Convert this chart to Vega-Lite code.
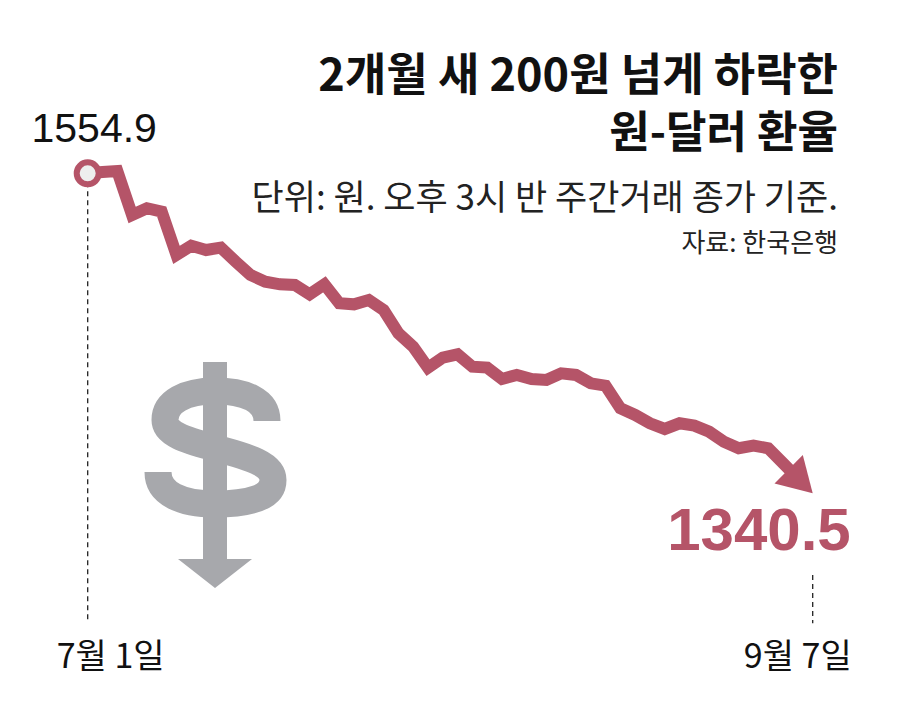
{
  "$schema": "https://vega.github.io/schema/vega-lite/v6.json",
  "description": "Won-dollar exchange rate, 2 months",
  "width": 908,
  "height": 714,
  "autosize": {"type": "fit", "contains": "padding"},
  "padding": 0,
  "background": "white",
  "config": {"view": {"stroke": null}},

  "datasets": {
    "rate": [
      {"d": 0, "rate": 1554.9, "date": "7월 1일"},
      {"d": 1, "rate": 1555.8},
      {"d": 2, "rate": 1556.4},
      {"d": 3, "rate": 1527.0},
      {"d": 4, "rate": 1531.5},
      {"d": 5, "rate": 1529.2},
      {"d": 6, "rate": 1500.2},
      {"d": 7, "rate": 1506.4},
      {"d": 8, "rate": 1503.5},
      {"d": 9, "rate": 1505.1},
      {"d": 10, "rate": 1495.7},
      {"d": 11, "rate": 1486.8},
      {"d": 12, "rate": 1482.3},
      {"d": 13, "rate": 1480.5},
      {"d": 14, "rate": 1480.1},
      {"d": 15, "rate": 1473.8},
      {"d": 16, "rate": 1480.5},
      {"d": 17, "rate": 1467.8},
      {"d": 18, "rate": 1467.1},
      {"d": 19, "rate": 1470.0},
      {"d": 20, "rate": 1463.3},
      {"d": 21, "rate": 1447.7},
      {"d": 22, "rate": 1438.7},
      {"d": 23, "rate": 1424.7},
      {"d": 24, "rate": 1431.4},
      {"d": 25, "rate": 1433.6},
      {"d": 26, "rate": 1425.3},
      {"d": 27, "rate": 1424.7},
      {"d": 28, "rate": 1417.1},
      {"d": 29, "rate": 1419.8},
      {"d": 30, "rate": 1417.1},
      {"d": 31, "rate": 1416.4},
      {"d": 32, "rate": 1420.9},
      {"d": 33, "rate": 1419.8},
      {"d": 34, "rate": 1414.2},
      {"d": 35, "rate": 1412.6},
      {"d": 36, "rate": 1397.5},
      {"d": 37, "rate": 1393.0},
      {"d": 38, "rate": 1387.4},
      {"d": 39, "rate": 1383.6},
      {"d": 40, "rate": 1387.4},
      {"d": 41, "rate": 1385.8},
      {"d": 42, "rate": 1381.8},
      {"d": 43, "rate": 1375.1},
      {"d": 44, "rate": 1370.7},
      {"d": 45, "rate": 1372.4},
      {"d": 46, "rate": 1370.7},
      {"d": 47, "rate": 1360.6},
      {"d": 48, "rate": 1350.5},
      {"d": 49, "rate": 1340.5, "date": "9월 7일"}
    ]
  },

  "data": {"name": "rate"},

  "encoding": {
    "x": {"field": "d", "type": "quantitative", "axis": null,
          "scale": {"domain": [-5.927, 55.441], "nice": false, "zero": false}},
    "y": {"field": "rate", "type": "quantitative", "axis": null,
          "scale": {"domain": [1192.63, 1671.01], "nice": false, "zero": false}}
  },

  "layer": [
    {
      "transform": [{"filter": "datum.d == 0"}],
      "mark": {"type": "rule", "color": "#222222", "strokeWidth": 1.3, "strokeDash": [5, 4]},
      "encoding": {"y2": {"datum": 1253.5}}
    },
    {
      "transform": [{"filter": "datum.d == 49"}],
      "mark": {"type": "rule", "color": "#222222", "strokeWidth": 1.3, "strokeDash": [5, 4]},
      "encoding": {"y": {"datum": 1285.8}, "y2": {"datum": 1253.5}}
    },

    {
      "transform": [{"filter": "datum.d == 0"}],
      "mark": {"type": "point", "shape": "M0.52,-0.54C0.52,-0.75,0.30,-0.84,0,-0.84C-0.30,-0.84,-0.50,-0.73,-0.50,-0.55C-0.50,-0.40,-0.25,-0.34,0,-0.27C0.25,-0.20,0.58,-0.13,0.58,0.05C0.58,0.23,0.33,0.29,0,0.29C-0.33,0.29,-0.57,0.19,-0.57,-0.03",
               "filled": false, "color": "#A7A8AC", "strokeWidth": 27, "strokeCap": "butt",
               "size": 40000, "opacity": 1},
      "encoding": {"x": {"datum": 8.604}, "y": {"datum": 1352.76}}
    },
    {
      "transform": [{"filter": "datum.d == 0"}],
      "mark": {"type": "point", "shape": "M-0.12,-1.13L0.12,-1.13L0.12,0.84L0.37,0.84L0,1.13L-0.37,0.84L-0.12,0.84Z",
               "filled": true, "color": "#A7A8AC", "strokeWidth": 0, "size": 40000, "opacity": 1},
      "encoding": {"x": {"datum": 8.604}, "y": {"datum": 1352.76}}
    },

    {
      "transform": [{"filter": "datum.d <= 48"}],
      "mark": {"type": "line", "color": "#B55468", "strokeWidth": 12}
    },
    {
      "transform": [{"filter": "datum.d == 49"}],
      "mark": {"type": "point", "shape": "M0,0L-1.7,-1L-1.7,1Z", "angle": 45,
               "filled": true, "color": "#B55468", "strokeWidth": 0, "size": 1600, "opacity": 1}
    },
    {
      "transform": [{"filter": "datum.d == 0"}],
      "mark": {"type": "point", "shape": "circle", "filled": true, "fill": "#EEEEEE",
               "stroke": "#B55468", "strokeWidth": 6, "size": 484, "opacity": 1}
    },

    {
      "transform": [{"filter": "datum.d == 0"}],
      "mark": {"type": "text", "font": "Liberation Sans",
               "fontSize": 41, "color": "#111111", "align": "center", "baseline": "alphabetic",
               "dx": 6.5, "dy": -31.6},
      "encoding": {"text": {"field": "rate", "type": "quantitative", "format": ".1f"}}
    },
    {
      "transform": [{"filter": "datum.d == 49"}],
      "mark": {"type": "text", "font": "Liberation Sans", "fontWeight": "bold",
               "fontSize": 60, "color": "#B55468", "align": "right", "baseline": "alphabetic",
               "dx": 38, "dy": 56.7},
      "encoding": {"text": {"field": "rate", "type": "quantitative", "format": ".1f"}}
    },

    {
      "transform": [{"filter": "datum.d == 0"}],
      "mark": {"type": "text", "font": "Noto Sans CJK KR", "fontSize": 34, "color": "#111111",
               "align": "left", "baseline": "alphabetic", "dx": -31},
      "encoding": {"y": {"datum": 1223.4}, "text": {"field": "date"}}
    },
    {
      "transform": [{"filter": "datum.d == 49"}],
      "mark": {"type": "text", "font": "Noto Sans CJK KR", "fontSize": 34, "color": "#111111",
               "align": "right", "baseline": "alphabetic", "dx": 39},
      "encoding": {"y": {"datum": 1223.4}, "text": {"field": "date"}}
    },

    {
      "transform": [{"filter": "datum.d == 0"}],
      "mark": {"type": "text", "text": "2개월 새 200원 넘게 하락한", "font": "Noto Sans CJK KR",
               "fontWeight": "bold", "fontSize": 45, "color": "#111111", "align": "right", "baseline": "alphabetic"},
      "encoding": {"x": {"datum": 50.71}, "y": {"datum": 1610.0}}
    },
    {
      "transform": [{"filter": "datum.d == 0"}],
      "mark": {"type": "text", "text": "원-달러 환율", "font": "Noto Sans CJK KR",
               "fontWeight": "bold", "fontSize": 44, "color": "#111111", "align": "right", "baseline": "alphabetic"},
      "encoding": {"x": {"datum": 50.71}, "y": {"datum": 1571.6}}
    },
    {
      "transform": [{"filter": "datum.d == 0"}],
      "mark": {"type": "text", "text": "단위: 원.   오후 3시 반 주간거래 종가 기준.", "font": "Noto Sans CJK KR",
               "fontSize": 35, "color": "#222222", "align": "right", "baseline": "alphabetic"},
      "encoding": {"x": {"datum": 50.71}, "y": {"datum": 1530.3}}
    },
    {
      "transform": [{"filter": "datum.d == 0"}],
      "mark": {"type": "text", "text": "자료: 한국은행", "font": "Noto Sans CJK KR",
               "fontSize": 26, "color": "#222222", "align": "right", "baseline": "alphabetic"},
      "encoding": {"x": {"datum": 50.71}, "y": {"datum": 1502.2}}
    }
  ]
}
